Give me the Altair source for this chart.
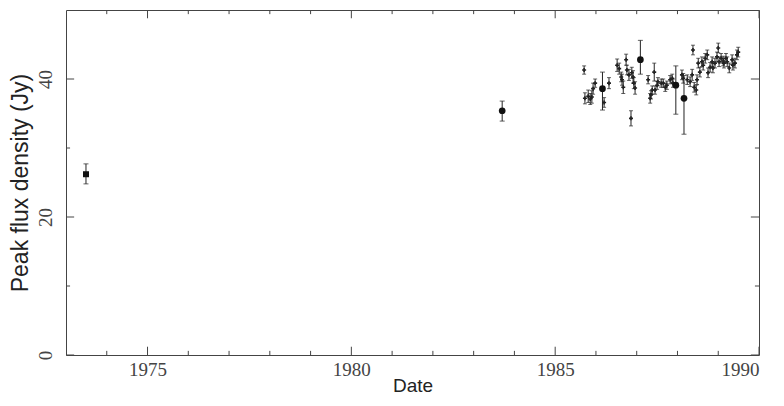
import altair as alt
import pandas as pd

# ---- data ----
small_year = [1985.71, 1985.73, 1985.81, 1985.86, 1985.90, 1985.93, 1985.98, 1986.20, 1986.32,
              1986.52, 1986.57, 1986.62, 1986.64, 1986.67, 1986.74, 1986.76, 1986.81, 1986.86,
              1986.88, 1986.91, 1986.93, 1986.96, 1987.28, 1987.33, 1987.35, 1987.38, 1987.43,
              1987.45, 1987.50, 1987.52, 1987.60, 1987.65, 1987.70, 1987.74, 1987.82, 1987.87,
              1987.89, 1988.11, 1988.14, 1988.24, 1988.31, 1988.36, 1988.38, 1988.41, 1988.46,
              1988.48, 1988.51, 1988.55, 1988.60, 1988.63, 1988.68, 1988.73, 1988.75, 1988.80,
              1988.85, 1988.87, 1988.92, 1988.97, 1989.00, 1989.02, 1989.07, 1989.12, 1989.14,
              1989.19, 1989.22, 1989.27, 1989.34, 1989.36, 1989.41, 1989.46, 1989.49]
small_flux = [41.3, 37.2, 37.5, 37.1, 37.4, 38.6, 39.4, 36.6, 39.4,
              42.0, 41.5, 40.3, 39.9, 38.8, 42.8, 41.3, 40.6, 34.3,
              40.9, 40.3, 39.4, 38.7, 39.9, 37.2, 37.7, 38.4, 41.0,
              38.4, 39.1, 39.6, 39.4, 39.4, 38.8, 39.1, 39.9, 40.1,
              39.4, 40.6, 40.1, 39.9, 39.6, 40.6, 44.2, 38.8, 38.4,
              39.9, 42.3, 41.0, 42.5, 42.0, 43.0, 43.5, 40.9, 41.7,
              42.5, 41.6, 42.3, 43.2, 44.5, 42.5, 43.0, 42.6, 42.3,
              43.0, 42.5, 41.6, 42.8, 42.0, 42.3, 43.5, 43.9]
small_err = [0.6, 0.8, 0.9, 0.8, 0.9, 0.8, 0.6, 0.7, 0.8,
             0.9, 0.8, 0.7, 0.8, 0.9, 0.8, 0.7, 0.8, 1.1,
             0.8, 0.9, 0.8, 0.9, 0.6, 0.7, 0.6, 0.6, 1.3,
             0.6, 0.6, 0.6, 0.6, 0.6, 0.6, 0.6, 0.6, 0.6,
             0.6, 0.7, 0.7, 0.7, 0.7, 0.8, 0.7, 0.7, 0.7,
             0.7, 0.7, 0.7, 0.7, 0.7, 0.7, 0.7, 0.7, 0.7,
             0.7, 0.7, 0.7, 0.7, 0.7, 0.7, 0.7, 0.7, 0.7,
             0.7, 0.7, 0.7, 0.7, 0.7, 0.7, 0.7, 0.7]

circ_year = [1983.70, 1986.16, 1987.09, 1987.96, 1988.16]
circ_flux = [35.4, 38.6, 42.8, 39.1, 37.2]
circ_lo = [33.9, 35.5, 40.7, 34.9, 32.0]
circ_hi = [36.8, 41.0, 45.6, 41.9, 40.5]

sq_year = [1973.49]
sq_flux = [26.2]
sq_lo = [24.8]
sq_hi = [27.7]

x_major = [1975, 1980, 1985, 1990]
x_minor = [1974, 1976, 1977, 1978, 1979, 1981, 1982, 1983, 1984, 1986, 1987, 1988, 1989]
y_major = [0, 20, 40]
y_minor = [10, 30]

X0, X1 = 1973, 1990
Y0, Y1 = 0, 50

# ---- tables ----
small = pd.DataFrame({"year": small_year, "flux": small_flux,
                      "lo": [f - e for f, e in zip(small_flux, small_err)],
                      "hi": [f + e for f, e in zip(small_flux, small_err)]})
circ = pd.DataFrame({"year": circ_year, "flux": circ_flux, "lo": circ_lo, "hi": circ_hi})
sq = pd.DataFrame({"year": sq_year, "flux": sq_flux, "lo": sq_lo, "hi": sq_hi})

xt_rows = []
for v in x_major:
    xt_rows.append({"year": v, "flux": Y0, "f2": Y0 + 1.2})
    xt_rows.append({"year": v, "flux": Y1, "f2": Y1 - 1.2})
for v in x_minor:
    xt_rows.append({"year": v, "flux": Y0, "f2": Y0 + 0.6})
    xt_rows.append({"year": v, "flux": Y1, "f2": Y1 - 0.6})
xt = pd.DataFrame(xt_rows)

yt_rows = []
for v in y_major:
    yt_rows.append({"year": X0, "y2": X0 + 0.2, "flux": v})
    yt_rows.append({"year": X1, "y2": X1 - 0.2, "flux": v})
for v in y_minor:
    yt_rows.append({"year": X0, "y2": X0 + 0.1, "flux": v})
    yt_rows.append({"year": X1, "y2": X1 - 0.1, "flux": v})
yt = pd.DataFrame(yt_rows)

xscale = alt.Scale(domain=[X0, X1], nice=False, zero=False)
yscale = alt.Scale(domain=[Y0, Y1], nice=False, zero=False)

xaxis = alt.Axis(values=x_major, format="d", title="Date", grid=False, ticks=False, domain=False,
                 labelFont="Liberation Serif", labelFontSize=19, labelColor="#444",
                 labelPadding=5, titleFont="Liberation Sans", titleFontSize=19,
                 titleFontWeight="normal", titleColor="#222", titlePadding=-3)
yaxis = alt.Axis(values=y_major, title="Peak flux density (Jy)", grid=False, ticks=False, domain=False,
                 labelFont="Liberation Serif", labelFontSize=19, labelColor="#444",
                 labelAngle=270, labelAlign="center", labelBaseline="bottom", labelPadding=11,
                 titleFont="Liberation Sans", titleFontSize=23, titleFontWeight="normal",
                 titleColor="#222", titlePadding=4)

X = lambda f: alt.X(f, type="quantitative", scale=xscale, axis=xaxis)
Y = lambda f: alt.Y(f, type="quantitative", scale=yscale, axis=yaxis)

ink = "#222"

small_bars = alt.Chart(small).mark_rule(color=ink, strokeWidth=1).encode(x=X("year"), y=Y("lo"), y2="hi")
small_caps_lo = alt.Chart(small).mark_tick(color=ink, orient="horizontal", size=4, thickness=1).encode(x=X("year"), y=Y("lo"))
small_caps_hi = alt.Chart(small).mark_tick(color=ink, orient="horizontal", size=4, thickness=1).encode(x=X("year"), y=Y("hi"))
small_pts = alt.Chart(small).mark_point(shape="cross", filled=True, color=ink, size=16, opacity=1).encode(x=X("year"), y=Y("flux"))

circ_bars = alt.Chart(circ).mark_rule(color=ink, strokeWidth=1).encode(x=X("year"), y=Y("lo"), y2="hi")
circ_caps_lo = alt.Chart(circ).mark_tick(color=ink, orient="horizontal", size=5, thickness=1).encode(x=X("year"), y=Y("lo"))
circ_caps_hi = alt.Chart(circ).mark_tick(color=ink, orient="horizontal", size=5, thickness=1).encode(x=X("year"), y=Y("hi"))
circ_pts = alt.Chart(circ).mark_circle(color="#111", size=45, opacity=1).encode(x=X("year"), y=Y("flux"))

sq_bars = alt.Chart(sq).mark_rule(color=ink, strokeWidth=1).encode(x=X("year"), y=Y("lo"), y2="hi")
sq_caps_lo = alt.Chart(sq).mark_tick(color=ink, orient="horizontal", size=5, thickness=1).encode(x=X("year"), y=Y("lo"))
sq_caps_hi = alt.Chart(sq).mark_tick(color=ink, orient="horizontal", size=5, thickness=1).encode(x=X("year"), y=Y("hi"))
sq_pts = alt.Chart(sq).mark_square(color="#111", size=36, opacity=1).encode(x=X("year"), y=Y("flux"))

xticks = alt.Chart(xt).mark_rule(color="#444", strokeWidth=1).encode(x=X("year"), y=Y("flux"), y2="f2")
yticks = alt.Chart(yt).mark_rule(color="#444", strokeWidth=1).encode(x=X("year"), x2="y2", y=Y("flux"))

chart = alt.layer(
    xticks, yticks,
    small_bars, small_caps_lo, small_caps_hi, small_pts,
    circ_bars, circ_caps_lo, circ_caps_hi, circ_pts,
    sq_bars, sq_caps_lo, sq_caps_hi, sq_pts,
).properties(
    width=693, height=345,
    autosize="none",
    padding={"left": 58, "top": 2, "right": 17, "bottom": 43},
    background="white",
).configure_view(stroke="#444", strokeWidth=1)

chart.save("out.html", embed_options={"renderer": "svg", "actions": False})
